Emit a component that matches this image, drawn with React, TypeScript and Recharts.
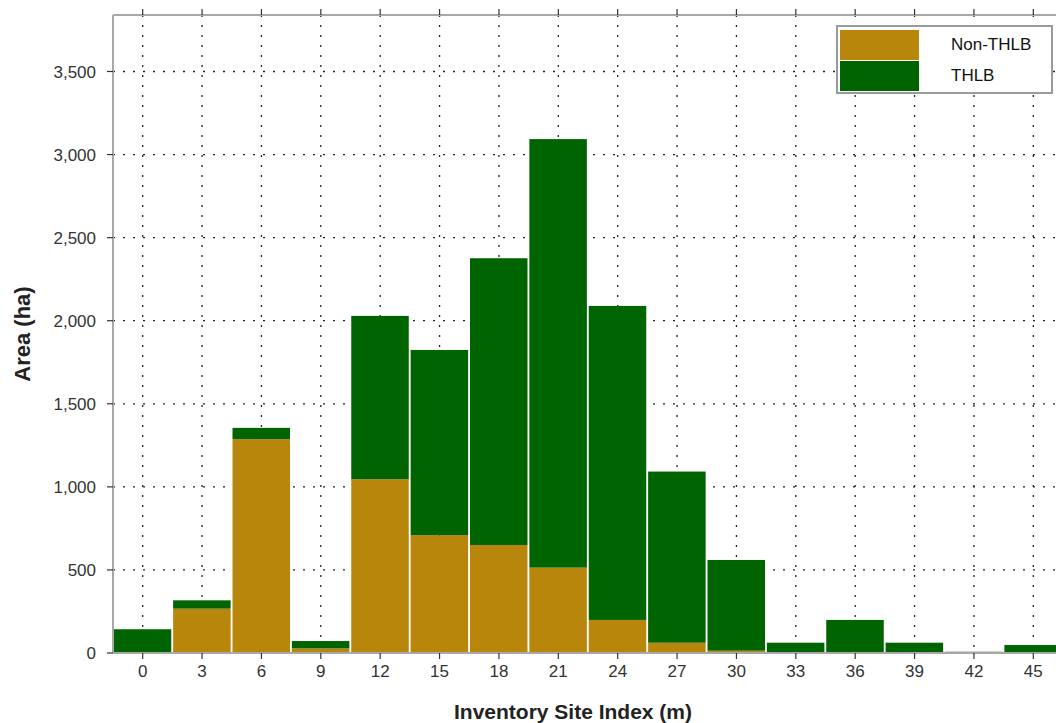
import React from 'react';
import { BarChart, Bar, XAxis, YAxis, CartesianGrid, Legend } from 'recharts';

const siteIndex = ['0', '3', '6', '9', '12', '15', '18', '21', '24', '27', '30', '33', '36', '39', '42', '45'];
const nonThlb = [0, 267, 1287, 28, 1046, 709, 650, 514, 199, 62, 14, 0, 0, 0, 0, 0];
const thlb = [143, 50, 68, 44, 983, 1115, 1726, 2579, 1890, 1030, 546, 62, 199, 62, 6, 48];
const yTicks = [0, 500, 1000, 1500, 2000, 2500, 3000, 3500];
const seriesNames = ['Non-THLB', 'THLB'];
const seriesColors = ['#B8860B', '#006400'];

const data = siteIndex.map((s, i) => ({ si: s, non: nonThlb[i], thlb: thlb[i] }));

const BarShape = (props: any) => {
  const { x, y, width, height, fill } = props;
  if (!height || height <= 0) return null;
  const pale = height < 2;
  return (
    <rect
      x={x + 0.75}
      y={pale ? y - 1 : y}
      width={Math.max(0, width - 1.5)}
      height={pale ? 2 : height}
      fill={pale ? '#c9d6bf' : fill}
    />
  );
};

const fmt = (v: number) => v.toLocaleString('en-US');

const LegendBox = (props: any) => {
  const payload = props.payload || [];
  return (
    <div
      style={{
        border: '2px solid #9a9a9a',
        background: '#fff',
        width: 217,
        height: 69,
        boxSizing: 'border-box',
        padding: '2px 2px',
        fontFamily: 'Liberation Sans, Arial, sans-serif',
        fontSize: 17,
        color: '#111',
      }}
    >
      {payload.map((p: any, i: number) => (
        <div key={i} style={{ display: 'flex', alignItems: 'center', height: 31 }}>
          <div style={{ width: 79, height: 30, background: p.color }} />
          <span style={{ marginLeft: 32 }}>{p.value}</span>
        </div>
      ))}
    </div>
  );
};

export default function App() {
  return (
    <div style={{ position: 'fixed', left: 0, top: 0, width: 1056, height: 723, overflow: 'hidden', background: '#fff' }}>
      <BarChart
        width={1070}
        height={723}
        data={data}
        margin={{ top: 14, right: 7, left: 53, bottom: 30 }}
        barCategoryGap={0}
        barGap={0}
      >
        <XAxis
          dataKey="si"
          xAxisId="b"
          height={40}
          tickSize={6}
          tickMargin={6}
          axisLine={{ stroke: '#a8a8a8', strokeWidth: 2 }}
          tickLine={{ stroke: '#333', strokeWidth: 1.2 }}
          tick={{ fill: '#333', fontSize: 17, fontFamily: 'Liberation Sans, Arial, sans-serif' }}
          interval={0}
          label={{
            value: 'Inventory Site Index (m)',
            position: 'bottom',
            offset: 11,
            dx: -15,
            style: { fontSize: 21, fontWeight: 'bold', fill: '#222', fontFamily: 'Liberation Sans, Arial, sans-serif' },
          }}
        />
        <XAxis
          dataKey="si"
          xAxisId="t"
          orientation="top"
          height={1}
          tickSize={6}
          axisLine={{ stroke: '#a8a8a8', strokeWidth: 2 }}
          tickLine={{ stroke: '#333', strokeWidth: 1.2 }}
          tick={{ fill: 'transparent', fontSize: 2 }}
          interval={0}
        />
        <YAxis
          yAxisId="l"
          width={60}
          domain={[0, 3840]}
          ticks={yTicks}
          tickSize={6}
          tickMargin={11}
          tickFormatter={fmt}
          axisLine={{ stroke: '#a8a8a8', strokeWidth: 2 }}
          tickLine={{ stroke: '#333', strokeWidth: 1.2 }}
          tick={{ fill: '#333', fontSize: 17, fontFamily: 'Liberation Sans, Arial, sans-serif' }}
          label={{
            value: 'Area (ha)',
            angle: -90,
            position: 'insideLeft',
            offset: -31,
            style: { fontSize: 22, fontWeight: 'bold', fill: '#222', fontFamily: 'Liberation Sans, Arial, sans-serif', textAnchor: 'middle' },
          }}
        />
        <Legend
          layout="vertical"
          align="center"
          verticalAlign="middle"
          wrapperStyle={{ position: 'absolute', left: 836, top: 25, width: 217, height: 69 }}
          content={<LegendBox />}
        />
        <Bar
          dataKey="non"
          name={seriesNames[0]}
          stackId="a"
          xAxisId="b"
          yAxisId="l"
          fill={seriesColors[0]}
          shape={<BarShape />}
          isAnimationActive={false}
        />
        <Bar
          dataKey="thlb"
          name={seriesNames[1]}
          stackId="a"
          xAxisId="b"
          yAxisId="l"
          fill={seriesColors[1]}
          shape={<BarShape />}
          isAnimationActive={false}
        />
        <CartesianGrid
          xAxisId="b"
          yAxisId="l"
          stroke="#222"
          strokeWidth={1.3}
          strokeDasharray="2 8"
          horizontalValues={yTicks}
        />
      </BarChart>
    </div>
  );
}
